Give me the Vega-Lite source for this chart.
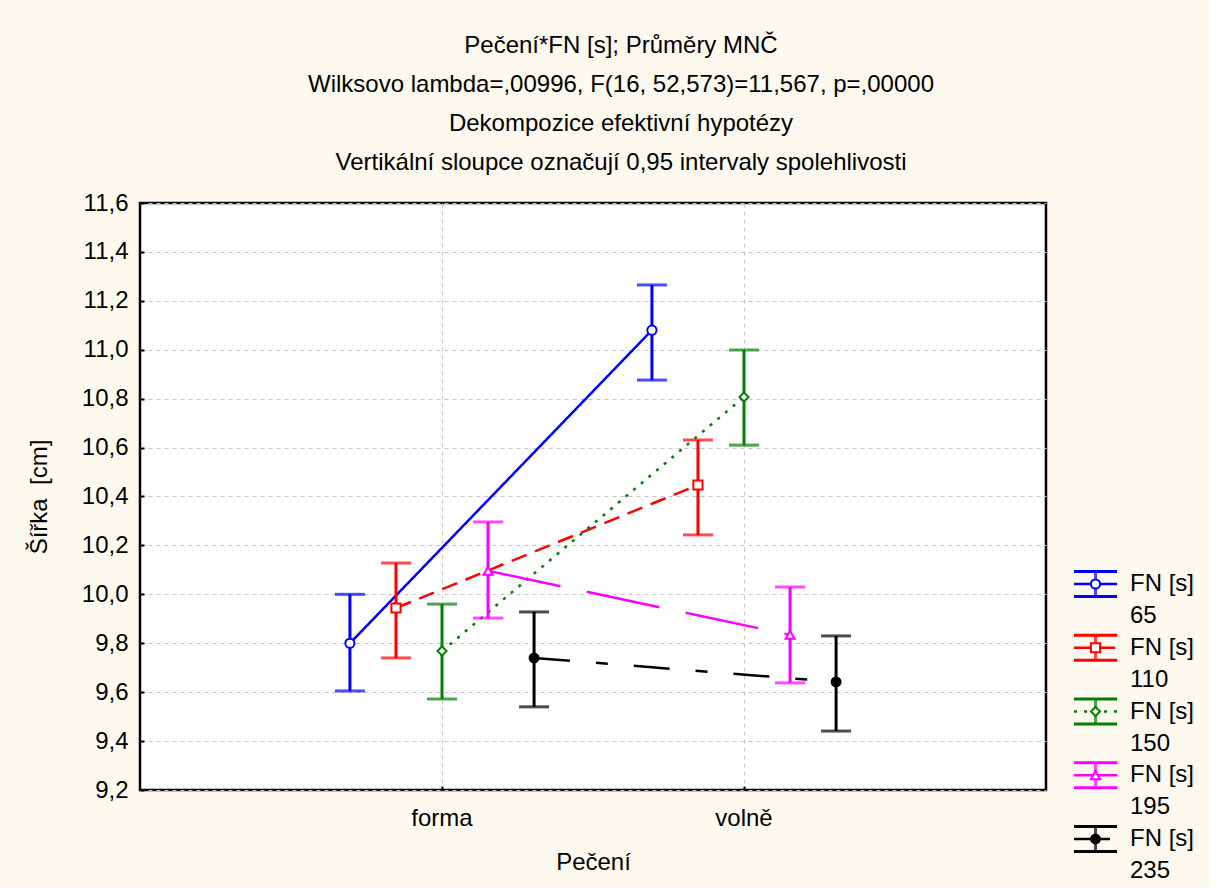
{
  "$schema": "https://vega.github.io/schema/vega-lite/v6.json",
  "background": "#fdf9ef",
  "padding": {"left": 26, "top": 32, "right": 5, "bottom": 5},
  "config": {
    "font": "Liberation Sans",
    "view": {"stroke": null},
    "axis": {
      "labelFontSize": 24, "titleFontSize": 24, "titleFontWeight": "normal",
      "labelColor": "black", "titleColor": "black",
      "gridColor": "#c4c4c4", "gridDash": [4, 4], "gridWidth": 1,
      "domain": false, "tickColor": "black", "tickWidth": 2, "tickSize": -4
    }
  },
  "bounds": "flush",
  "spacing": 28,
  "hconcat": [
    {
      "width": 906,
      "height": 587,
      "title": {
        "text": ["Pečení*FN [s]; Průměry MNČ", "Wilksovo lambda=,00996, F(16, 52,573)=11,567, p=,00000", "Dekompozice efektivní hypotézy", "Vertikální sloupce označují 0,95 intervaly spolehlivosti"],
        "fontSize": 24, "fontWeight": "normal", "lineHeight": 39, "anchor": "middle", "color": "black", "offset": 16, "frame": "group", "dx": 28
      },
      "view": {"fill": "white", "stroke": "black", "strokeWidth": 2.5},
      "data": {"values": [
        {"pec": "forma", "fn": "65", "mean": 9.80, "lo": 9.605, "hi": 10.0},
        {"pec": "forma", "fn": "110", "mean": 9.944, "lo": 9.74, "hi": 10.128},
        {"pec": "forma", "fn": "150", "mean": 9.768, "lo": 9.572, "hi": 9.96},
        {"pec": "forma", "fn": "195", "mean": 10.096, "lo": 9.903, "hi": 10.296},
        {"pec": "forma", "fn": "235", "mean": 9.74, "lo": 9.54, "hi": 9.928},
        {"pec": "volně", "fn": "65", "mean": 11.08, "lo": 10.876, "hi": 11.265},
        {"pec": "volně", "fn": "110", "mean": 10.447, "lo": 10.243, "hi": 10.631},
        {"pec": "volně", "fn": "150", "mean": 10.807, "lo": 10.61, "hi": 10.999},
        {"pec": "volně", "fn": "195", "mean": 9.834, "lo": 9.638, "hi": 10.03},
        {"pec": "volně", "fn": "235", "mean": 9.642, "lo": 9.441, "hi": 9.83}
      ]},
      "encoding": {
        "x": {"field": "pec", "type": "nominal", "sort": ["forma", "volně"],
          "scale": {"type": "band", "paddingInner": 0, "paddingOuter": 0.5},
          "axis": {"labelAngle": 0, "grid": true, "labelPadding": 20, "titlePadding": 20, "title": "Pečení"}},
        "xOffset": {"field": "fn", "type": "nominal", "sort": ["65", "110", "150", "195", "235"],
          "scale": {"paddingInner": 0, "paddingOuter": 0.78}},
        "color": {"field": "fn", "type": "nominal",
          "scale": {"domain": ["65", "110", "150", "195", "235"], "range": ["#0000ff", "#ff0000", "#008000", "#ff00ff", "#000000"]},
          "legend": null}
      },
      "layer": [
        {
          "mark": {"type": "line", "strokeWidth": 2.5},
          "encoding": {
            "y": {"field": "mean", "type": "quantitative",
              "scale": {"domain": [9.2, 11.6], "nice": false, "zero": false},
              "axis": {"values": [9.2, 9.4, 9.6, 9.8, 10.0, 10.2, 10.4, 10.6, 10.8, 11.0, 11.2, 11.4, 11.6],
                "labelExpr": "replace(format(datum.value, '.1f'), '.', ',')",
                "title": "Šířka\u00a0 [cm]", "labelPadding": 16, "titlePadding": 30}},
            "strokeDash": {"field": "fn", "type": "nominal",
              "scale": {"domain": ["65", "110", "150", "195", "235"], "range": [[1, 0], [16, 9], [3, 7], [74, 27], [36, 26, 12, 26]]},
              "legend": null}
          }
        },
        {
          "mark": {"type": "rule", "strokeWidth": 3},
          "encoding": {"y": {"field": "lo", "type": "quantitative"}, "y2": {"field": "hi"}}
        },
        {
          "mark": {"type": "tick", "orient": "horizontal", "size": 30, "thickness": 3},
          "encoding": {"y": {"field": "lo", "type": "quantitative"}}
        },
        {
          "mark": {"type": "tick", "orient": "horizontal", "size": 30, "thickness": 3},
          "encoding": {"y": {"field": "hi", "type": "quantitative"}}
        },
        {
          "mark": {"type": "point", "filled": false, "strokeWidth": 2, "opacity": 1},
          "encoding": {
            "y": {"field": "mean", "type": "quantitative"},
            "shape": {"field": "fn", "type": "nominal",
              "scale": {"domain": ["65", "110", "150", "195", "235"], "range": ["circle", "square", "diamond", "triangle-up", "circle"]},
              "legend": null},
            "size": {"field": "fn", "type": "nominal",
              "scale": {"domain": ["65", "110", "150", "195", "235"], "range": [85, 80, 140, 95, 80]},
              "legend": null},
            "fill": {"field": "fn", "type": "nominal",
              "scale": {"domain": ["65", "110", "150", "195", "235"], "range": ["#ffffff", "#ffffff", "#ffffff", "#ffffff", "#000000"]},
              "legend": null}
          }
        }
      ]
    },
    {
      "width": 130,
      "height": 587,
      "data": {"values": [{"fn": "65"}, {"fn": "110"}, {"fn": "150"}, {"fn": "195"}, {"fn": "235"}]},
      "encoding": {
        "y": {"field": "fn", "type": "nominal", "sort": ["65", "110", "150", "195", "235"],
          "scale": {"type": "point", "range": [381, 636], "padding": 0}, "axis": null},
        "color": {"field": "fn", "type": "nominal",
          "scale": {"domain": ["65", "110", "150", "195", "235"], "range": ["#0000ff", "#ff0000", "#008000", "#ff00ff", "#000000"]},
          "legend": null}
      },
      "layer": [
        {"mark": {"type": "rule", "strokeWidth": 3, "yOffset": -12.5}, "encoding": {"x": {"value": 0}, "x2": {"value": 43}}},
        {"mark": {"type": "rule", "strokeWidth": 3, "yOffset": 12.5}, "encoding": {"x": {"value": 0}, "x2": {"value": 43}}},
        {"mark": {"type": "rule", "strokeWidth": 2.5}, "encoding": {"x": {"value": 0}, "x2": {"value": 43},
          "strokeDash": {"field": "fn", "type": "nominal",
            "scale": {"domain": ["65", "110", "150", "195", "235"], "range": [[1, 0], [16, 9], [3, 7], [74, 27], [36, 26, 12, 26]]},
            "legend": null}}},
        {"mark": {"type": "tick", "orient": "vertical", "size": 25, "thickness": 3}, "encoding": {"x": {"value": 21.5}}},
        {"mark": {"type": "point", "filled": false, "strokeWidth": 2, "opacity": 1},
          "encoding": {"x": {"value": 21.5},
            "shape": {"field": "fn", "type": "nominal",
              "scale": {"domain": ["65", "110", "150", "195", "235"], "range": ["circle", "square", "diamond", "triangle-up", "circle"]},
              "legend": null},
            "size": {"field": "fn", "type": "nominal",
              "scale": {"domain": ["65", "110", "150", "195", "235"], "range": [85, 80, 140, 95, 80]},
              "legend": null},
            "fill": {"field": "fn", "type": "nominal",
              "scale": {"domain": ["65", "110", "150", "195", "235"], "range": ["#ffffff", "#ffffff", "#ffffff", "#ffffff", "#000000"]},
              "legend": null}}},
        {"mark": {"type": "text", "align": "left", "baseline": "middle", "fontSize": 24},
          "encoding": {"x": {"value": 56}, "text": {"value": "FN [s]"}, "color": {"value": "black"}}},
        {"mark": {"type": "text", "align": "left", "baseline": "middle", "fontSize": 24, "dy": 32},
          "encoding": {"x": {"value": 56}, "text": {"field": "fn"}, "color": {"value": "black"}}}
      ]
    }
  ]
}
